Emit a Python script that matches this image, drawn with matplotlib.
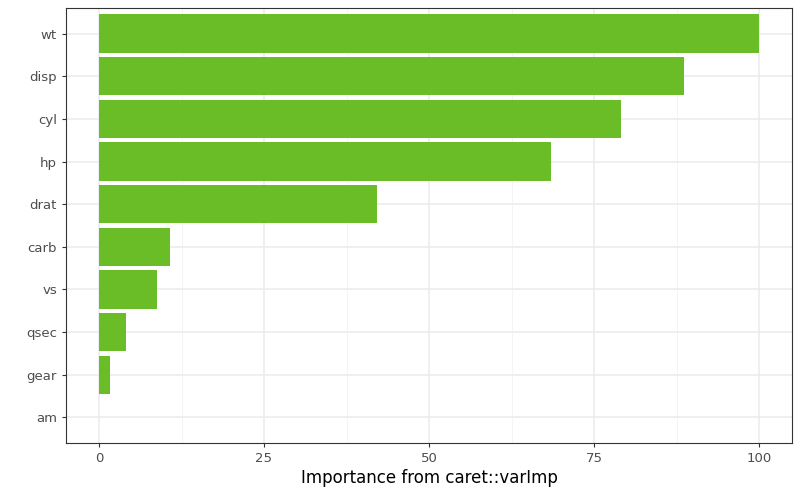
import matplotlib
matplotlib.use("Agg")
import matplotlib.pyplot as plt

variables = ["wt", "disp", "cyl", "hp", "drat", "carb", "vs", "qsec", "gear", "am"]
importance = [100, 88.6, 79.1, 68.5, 42.1, 10.8, 8.8, 4.1, 1.7, 0]
xticks = [0, 25, 50, 75, 100]

fig = plt.figure(figsize=(8, 4.94), dpi=100)
ax = fig.add_axes([0.0825, 0.1032, 0.9075, 0.8806])
n = len(variables)
ypos = [n - i for i in range(n)]
ax.barh(ypos, importance, height=0.9, color="#6BBD28", zorder=3)
ax.set_xlim(-5, 105)
ax.set_ylim(0.4, n + 0.6)
ax.set_yticks(ypos)
ax.set_yticklabels(variables)
ax.set_xticks(xticks)
ax.set_xticks([12.5, 37.5, 62.5, 87.5], minor=True)
ax.grid(True, which="major", color="#EBEBEB", linewidth=1.1, zorder=0)
ax.grid(True, which="minor", axis="x", color="#F2F2F2", linewidth=0.6, zorder=0)
for s in ax.spines.values():
    s.set_color("#333333"); s.set_linewidth(0.8)
ax.tick_params(which="major", colors="#333333", labelcolor="#4D4D4D", labelsize=9.5, length=3)
ax.tick_params(which="minor", length=0)
ax.set_xlabel("Importance from caret::varImp", fontsize=12, labelpad=3)
fig.savefig("out.png", dpi=100)
